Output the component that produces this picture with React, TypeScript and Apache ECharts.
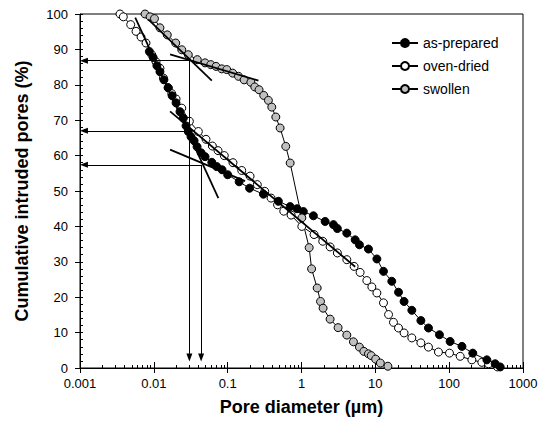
import React, { useEffect, useRef } from 'react';
import * as echarts from 'echarts';

const FONT = '"Liberation Sans", Arial, sans-serif';

// ---- data ----
const asPreparedX = [0.0087, 0.0098, 0.011, 0.0121, 0.0137, 0.0156, 0.0177, 0.020, 0.0226, 0.0251, 0.0273, 0.0293, 0.0319, 0.0351, 0.0385, 0.0437, 0.0494, 0.061, 0.071, 0.084, 0.100, 0.143, 0.198, 0.305, 0.486, 0.702, 0.871, 1.06, 1.45, 2.09, 2.71, 3.06, 4.11, 5.33, 6.09, 8.07, 10.5, 12.9, 16.7, 20.6, 24.5, 31.2, 41.4, 52.4, 73.9, 103, 149, 209, 324, 420, 491];
const asPreparedY = [89.4, 87.7, 85.4, 83.7, 81.4, 79.2, 76.9, 74.9, 72.4, 70.6, 68.4, 66.8, 65.3, 64.2, 62.5, 60.8, 59.7, 58.1, 56.9, 56.0, 54.6, 52.6, 50.8, 49.1, 47.1, 45.6, 45.0, 44.2, 43.0, 41.4, 40.5, 39.4, 38.1, 36.2, 34.8, 33.6, 30.8, 27.3, 24.5, 21.4, 18.8, 16.3, 13.4, 11.3, 9.4, 7.5, 6.1, 4.2, 2.3, 1.2, 0.3];

const ovenDriedX = [0.00348, 0.00386, 0.00486, 0.00574, 0.00671, 0.00783, 0.00938, 0.0107, 0.0121, 0.0135, 0.0157, 0.0175, 0.0200, 0.0239, 0.0303, 0.0401, 0.0509, 0.0621, 0.0741, 0.090, 0.118, 0.155, 0.201, 0.252, 0.318, 0.387, 0.474, 0.575, 0.723, 1.01, 1.48, 1.94, 2.44, 3.06, 4.11, 5.16, 6.22, 7.67, 8.97, 10.5, 12.9, 15.1, 17.6, 20.6, 24.5, 31.2, 41.4, 52.4, 71.6, 101, 141, 203, 277, 341, 451];
const ovenDriedY = [100, 99.2, 97.0, 95.1, 93.5, 91.8, 88.5, 86.5, 84.7, 81.9, 79.1, 77.5, 76.0, 73.4, 69.7, 66.8, 64.6, 62.7, 61.4, 60.0, 58.0, 55.8, 54.2, 51.8, 49.9, 48.0, 46.1, 44.3, 43.2, 40.0, 37.7, 35.8, 34.2, 32.5, 30.6, 28.7, 27.0, 24.7, 22.9, 21.2, 18.4, 15.1, 12.9, 11.3, 9.9, 8.5, 7.1, 5.9, 4.5, 4.2, 3.3, 2.3, 1.6, 1.2, 0.3];

const swollenX = [0.0076, 0.0089, 0.0102, 0.0121, 0.0152, 0.0198, 0.0239, 0.0293, 0.0388, 0.0494, 0.059, 0.0697, 0.0832, 0.0973, 0.117, 0.140, 0.167, 0.206, 0.233, 0.266, 0.308, 0.356, 0.396, 0.449, 0.513, 0.612, 0.702, 1.01, 1.27, 1.37, 1.63, 1.81, 1.96, 2.44, 3.13, 4.11, 5.05, 6.09, 6.98, 8.07, 8.8, 10.1, 11.7, 14.8];
const swollenY = [100, 99.2, 98.7, 96.1, 94.1, 91.8, 89.9, 88.5, 87.1, 86.2, 85.7, 85.2, 84.5, 84.3, 83.3, 82.4, 81.4, 80.7, 79.4, 78.6, 77.0, 75.6, 73.7, 70.9, 67.8, 62.6, 57.9, 42.4, 34.0, 28.0, 22.6, 18.8, 16.9, 13.8, 11.4, 9.3, 7.4, 5.9, 4.7, 4.0, 3.5, 2.5, 1.4, 0.5];

// tangent lines [x1, y1, x2, y2]
const tangentLines = [
  [0.0084, 98.5, 0.061, 81.2],
  [0.0166, 88.6, 0.261, 81.2],
  [0.0056, 99.0, 0.0748, 48.0],
  [0.0166, 72.5, 5.33, 28.6],
  [0.0166, 61.7, 0.172, 52.8],
];

// arrows [fromX, fromY, toX, toY]
const arrowLines = [
  [0.0303, 86.8, 0.00113, 86.8],
  [0.0303, 67.0, 0.00113, 67.0],
  [0.0437, 57.4, 0.00113, 57.4],
  [0.0303, 86.8, 0.0303, 3.0],
  [0.0437, 57.4, 0.0437, 3.0],
];

const xTickLabels = ['0.001', '0.01', '0.1', '1', '10', '100', '1000'];
const decades = [0.001, 0.01, 0.1, 1, 10, 100];
const minorMultipliers = [2, 3, 4, 5, 6, 7, 8, 9];
const legendNames = ['as-prepared', 'oven-dried', 'swollen'];

export default function App() {
  const ref = useRef<HTMLDivElement>(null);

  useEffect(() => {
    const chart = echarts.init(ref.current!, undefined, { renderer: 'svg' });

    const minorTicks: number[][] = [];
    decades.forEach((d) => minorMultipliers.forEach((m) => minorTicks.push([d * m, 0])));

    const dataSeries = (name: string, xs: number[], ys: number[], fill: string, z: number) => ({
      name,
      type: 'line',
      xAxisIndex: 0,
      yAxisIndex: 0,
      data: xs.map((x, i) => [x, ys[i]]),
      symbol: 'circle',
      symbolSize: 8,
      itemStyle: { color: fill, borderColor: '#000', borderWidth: 1 },
      lineStyle: { color: '#000', width: 1 },
      emphasis: { disabled: true },
      z,
    });

    const grid = { left: 80, right: 22, top: 14, bottom: 57 };

    const option: any = {
      animation: false,
      backgroundColor: '#fff',
      grid: [
        { ...grid, show: true, borderColor: '#000', borderWidth: 1, backgroundColor: 'transparent' },
        { ...grid, show: false },
      ],
      legend: {
        data: legendNames,
        orient: 'vertical',
        left: 386,
        top: 31,
        itemWidth: 26,
        itemHeight: 10,
        itemGap: 9,
        textStyle: { fontSize: 14, color: '#000', fontFamily: FONT },
        selectedMode: false,
      },
      xAxis: [
        {
          type: 'log',
          logBase: 10,
          gridIndex: 0,
          min: 0.001,
          max: 1000,
          splitNumber: 6,
          axisLine: { show: true, lineStyle: { color: '#000', width: 1 } },
          axisTick: { show: true, inside: false, length: 5, lineStyle: { color: '#000' } },
          axisLabel: {
            color: '#000',
            fontSize: 13,
            fontFamily: FONT,
            margin: 9,
            formatter: (v: number) => xTickLabels[Math.round(Math.log10(v)) + 3],
          },
          splitLine: { show: false },
          name: 'Pore diameter (µm)',
          nameLocation: 'middle',
          nameGap: 30,
          nameTextStyle: { fontWeight: 'bold', fontSize: 18, color: '#000', fontFamily: FONT },
        },
        {
          type: 'log',
          logBase: 10,
          gridIndex: 1,
          min: 0.001,
          max: 1000,
          splitNumber: 6,
          axisLine: { show: false },
          axisTick: { show: true, inside: true, length: 6, lineStyle: { color: '#000' } },
          axisLabel: { show: false },
          splitLine: { show: false },
        },
      ],
      yAxis: [
        {
          type: 'value',
          gridIndex: 0,
          min: 0,
          max: 100,
          interval: 10,
          axisLine: { show: true, lineStyle: { color: '#000', width: 1 } },
          axisTick: { show: true, inside: false, length: 5, lineStyle: { color: '#000' } },
          axisLabel: { color: '#000', fontSize: 13, fontFamily: FONT, margin: 12 },
          splitLine: { show: false },
          name: 'Cumulative intruded pores (%)',
          nameLocation: 'middle',
          nameGap: 49,
          nameTextStyle: { fontWeight: 'bold', fontSize: 18, color: '#000', fontFamily: FONT },
        },
        {
          type: 'value',
          gridIndex: 1,
          min: 0,
          max: 100,
          interval: 10,
          axisLine: { show: false },
          axisTick: { show: true, inside: true, length: 3, lineStyle: { color: '#000' } },
          minorTick: { show: true, splitNumber: 5, length: 3, lineStyle: { color: '#000' } },
          axisLabel: { show: false },
          splitLine: { show: false },
        },
      ],
      series: [
        dataSeries('oven-dried', ovenDriedX, ovenDriedY, '#ffffff', 2),
        dataSeries('as-prepared', asPreparedX, asPreparedY, '#000000', 2),
        dataSeries('swollen', swollenX, swollenY, '#c0c0c0', 2),
        ...tangentLines.map((t, i) => ({
          name: 'tangent' + i,
          type: 'line',
          xAxisIndex: 0,
          yAxisIndex: 0,
          data: [[t[0], t[1]], [t[2], t[3]]],
          symbol: 'none',
          lineStyle: { color: '#000', width: 1.75 },
          silent: true,
          z: 4,
        })),
        {
          name: 'arrows',
          type: 'line',
          xAxisIndex: 0,
          yAxisIndex: 0,
          data: [],
          silent: true,
          z: 4,
          markLine: {
            silent: true,
            animation: false,
            symbol: ['none', 'triangle'],
            symbolSize: [6, 8],
            label: { show: false },
            lineStyle: { color: '#000', type: 'solid', width: 1 },
            emphasis: { disabled: true },
            data: arrowLines.map((a) => [{ coord: [a[0], a[1]] }, { coord: [a[2], a[3]] }]),
          },
        },
        {
          name: 'xMinorTicks',
          type: 'custom',
          xAxisIndex: 0,
          yAxisIndex: 0,
          data: minorTicks,
          silent: true,
          clip: false,
          z: 5,
          renderItem: (_params: any, api: any) => {
            const p = api.coord([api.value(0), 0]);
            const x = Math.round(p[0]) + 0.5;
            return {
              type: 'line',
              shape: { x1: x, y1: p[1], x2: x, y2: p[1] - 3 },
              style: { stroke: '#000', lineWidth: 1 },
            };
          },
        },
      ],
    };

    chart.setOption(option);
    return () => chart.dispose();
  }, []);

  return (
    <div
      ref={ref}
      style={{ position: 'absolute', left: 0, top: 0, width: 545, height: 425, background: '#fff' }}
    />
  );
}
